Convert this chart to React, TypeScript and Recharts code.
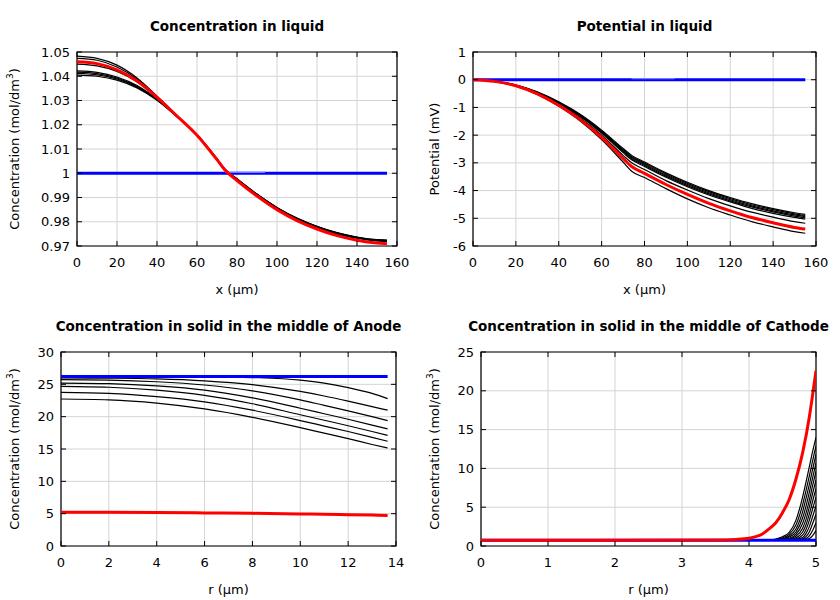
import React from 'react';
import { LineChart, Line, XAxis, YAxis, CartesianGrid, ReferenceArea } from 'recharts';

const FONT = "'DejaVu Sans', 'Liberation Sans', sans-serif";

// ---------- Panel 1: Concentration in liquid ----------
const liquidX = [0, 10, 20, 30, 40, 50, 60, 70, 74, 80, 90, 100, 110, 120, 130, 140, 150, 155];
const liquidConcBlack = [
  [1.0483, 1.0474, 1.0446, 1.0393, 1.0318, 1.0237, 1.0156, 1.0055, 1.0012, 0.9972, 0.9909, 0.9854, 0.9810, 0.9776, 0.9750, 0.9732, 0.9721, 0.9719],
  [1.0474, 1.0466, 1.0438, 1.0388, 1.0316, 1.0237, 1.0157, 1.0056, 1.0013, 0.9973, 0.9910, 0.9855, 0.9811, 0.9777, 0.9751, 0.9733, 0.9722, 0.9720],
  [1.0450, 1.0443, 1.0420, 1.0377, 1.0312, 1.0236, 1.0157, 1.0057, 1.0014, 0.9974, 0.9911, 0.9856, 0.9812, 0.9778, 0.9752, 0.9734, 0.9723, 0.9721],
  [1.0422, 1.0416, 1.0397, 1.0362, 1.0306, 1.0234, 1.0158, 1.0058, 1.0015, 0.9975, 0.9912, 0.9857, 0.9813, 0.9779, 0.9753, 0.9735, 0.9724, 0.9722],
  [1.0417, 1.0411, 1.0393, 1.0359, 1.0305, 1.0234, 1.0158, 1.0058, 1.0015, 0.9975, 0.9912, 0.9857, 0.9813, 0.9779, 0.9753, 0.9735, 0.9724, 0.9722],
  [1.0412, 1.0406, 1.0389, 1.0356, 1.0303, 1.0233, 1.0158, 1.0059, 1.0016, 0.9976, 0.9913, 0.9858, 0.9814, 0.9780, 0.9754, 0.9736, 0.9725, 0.9723],
  [1.0405, 1.0400, 1.0384, 1.0352, 1.0301, 1.0233, 1.0159, 1.0060, 1.0017, 0.9977, 0.9914, 0.9859, 0.9815, 0.9781, 0.9755, 0.9737, 0.9726, 0.9724],
];
const liquidConcRed = [1.0460, 1.0452, 1.0426, 1.0380, 1.0313, 1.0236, 1.0157, 1.0056, 1.0013, 0.9970, 0.9906, 0.9850, 0.9805, 0.9770, 0.9743, 0.9724, 0.9712, 0.9709];
const liquidBlueX = [0, 155];
const liquidConcBlue = [1, 1];
const liquidBlueSegX = [74, 94];
const liquidConcBlueSeg = [1.0004, 1.0004];
const liquidXTicks = [0, 20, 40, 60, 80, 100, 120, 140, 160];
const liquidConcTicks = [0.97, 0.98, 0.99, 1, 1.01, 1.02, 1.03, 1.04, 1.05];

// ---------- Panel 2: Potential in liquid ----------
const potentialBlack = [
  [0, -0.06, -0.19, -0.44, -0.80, -1.25, -1.82, -2.48, -2.73, -2.97, -3.36, -3.70, -4.00, -4.25, -4.47, -4.65, -4.80, -4.86],
  [0, -0.06, -0.19, -0.45, -0.81, -1.27, -1.85, -2.52, -2.77, -3.01, -3.40, -3.74, -4.04, -4.29, -4.51, -4.69, -4.84, -4.90],
  [0, -0.06, -0.20, -0.46, -0.82, -1.29, -1.88, -2.56, -2.81, -3.05, -3.44, -3.78, -4.08, -4.33, -4.55, -4.73, -4.88, -4.94],
  [0, -0.06, -0.20, -0.46, -0.83, -1.31, -1.90, -2.59, -2.85, -3.09, -3.48, -3.82, -4.12, -4.37, -4.59, -4.77, -4.92, -4.98],
  [0, -0.06, -0.20, -0.47, -0.85, -1.33, -1.93, -2.63, -2.89, -3.13, -3.52, -3.86, -4.16, -4.41, -4.64, -4.82, -4.97, -5.03],
  [0, -0.06, -0.21, -0.49, -0.88, -1.38, -2.00, -2.73, -3.00, -3.24, -3.64, -3.98, -4.29, -4.55, -4.78, -4.96, -5.12, -5.18],
  [0, -0.07, -0.23, -0.53, -0.96, -1.49, -2.16, -2.97, -3.30, -3.53, -3.93, -4.30, -4.62, -4.88, -5.12, -5.31, -5.48, -5.54],
];
const potentialRed = [0, -0.06, -0.22, -0.51, -0.92, -1.44, -2.08, -2.84, -3.13, -3.38, -3.78, -4.14, -4.46, -4.73, -4.97, -5.16, -5.33, -5.39];
const potentialBlue = [0, 0];
const potentialBlueSeg = [0.04, 0.04];
const potentialTicks = [-6, -5, -4, -3, -2, -1, 0, 1];

// ---------- Panel 3: Anode solid ----------
const anodeR = [0, 2, 4, 6, 8, 10, 11, 12, 13, 13.65];
const anodeBlack = [
  [26.25, 26.25, 26.24, 26.2, 26.05, 25.65, 25.2, 24.5, 23.6, 22.8],
  [25.98, 25.95, 25.85, 25.55, 24.95, 23.9, 23.2, 22.4, 21.55, 21.0],
  [25.72, 25.65, 25.4, 24.9, 24.0, 22.6, 21.75, 20.9, 20.0, 19.4],
  [25.2, 25.1, 24.75, 24.1, 22.9, 21.3, 20.45, 19.6, 18.7, 18.1],
  [24.69, 24.55, 24.1, 23.3, 22.0, 20.3, 19.45, 18.6, 17.7, 17.1],
  [23.76, 23.6, 23.1, 22.3, 21.0, 19.4, 18.55, 17.7, 16.8, 16.2],
  [22.73, 22.6, 22.1, 21.2, 19.9, 18.3, 17.45, 16.6, 15.7, 15.15],
];
const anodeRed = [5.2, 5.2, 5.17, 5.12, 5.05, 4.95, 4.9, 4.85, 4.78, 4.72];
const anodeBlueR = [0, 13.65];
const anodeBlue = [26.2, 26.2];
const anodeRTicks = [0, 2, 4, 6, 8, 10, 12, 14];
const anodeTicks = [0, 5, 10, 15, 20, 25, 30];

// ---------- Panel 4: Cathode solid ----------
const cathodeBlackR = [0, 4.3, 4.5, 4.6, 4.7, 4.8, 4.85, 4.9, 4.95, 5.0];
const cathodeBlack = [
  [0.75, 0.8, 1.2, 1.75, 3.3, 6.3, 8.2, 10.2, 12.2, 14.0],
  [0.75, 0.78, 1.05, 1.5, 2.7, 5.3, 7.1, 9.0, 11.0, 12.9],
  [0.75, 0.77, 0.95, 1.3, 2.2, 4.4, 6.1, 7.9, 9.9, 11.8],
  [0.75, 0.76, 0.88, 1.15, 1.8, 3.6, 5.1, 6.9, 8.8, 10.7],
  [0.75, 0.76, 0.84, 1.0, 1.5, 2.9, 4.2, 5.9, 7.8, 9.6],
  [0.75, 0.75, 0.8, 0.92, 1.25, 2.3, 3.4, 5.0, 6.8, 8.5],
  [0.75, 0.75, 0.78, 0.85, 1.05, 1.8, 2.7, 4.1, 5.8, 7.4],
  [0.75, 0.75, 0.76, 0.8, 0.92, 1.4, 2.1, 3.3, 4.8, 6.3],
  [0.75, 0.75, 0.75, 0.77, 0.84, 1.1, 1.6, 2.5, 3.8, 5.2],
  [0.75, 0.75, 0.75, 0.76, 0.79, 0.92, 1.2, 1.8, 2.9, 4.1],
  [0.75, 0.75, 0.75, 0.75, 0.77, 0.82, 0.95, 1.3, 2.0, 3.0],
  [0.75, 0.75, 0.75, 0.75, 0.76, 0.78, 0.83, 0.98, 1.35, 2.0],
];
const cathodeRedR = [0, 3.5, 3.8, 4.0, 4.1, 4.2, 4.3, 4.4, 4.5, 4.6, 4.7, 4.8, 4.9, 4.95, 5.0];
const cathodeRed = [0.75, 0.76, 0.84, 1.0, 1.2, 1.55, 2.2, 3.0, 4.3, 6.0, 8.6, 12.0, 16.6, 19.5, 22.6];
const cathodeBlueR = [0, 5];
const cathodeBlue = [0.75, 0.75];
const cathodeRTicks = [0, 1, 2, 3, 4, 5];
const cathodeTicks = [0, 5, 10, 15, 20, 25];

// ---------- layout ----------
const W = 420;
const H = 300;
const TOP = 52;
const BOTTOM = 246;
const YAXIS_W = 40;
const XAXIS_H = 30;

type S = { xs: number[]; ys: number[]; color: string; width: number };

const pts = (xs: number[], ys: number[]) => xs.map((x, i) => ({ x, y: ys[i] }));

const concLabel = (
  <span>
    Concentration (mol/dm<sup style={{ fontSize: 9, verticalAlign: 'super', lineHeight: 0 }}>3</sup>)
  </span>
);

type PanelProps = {
  ox: number;
  oy: number;
  plotLeft: number;
  plotRight: number;
  title: string;
  xLabel: string;
  yLabel: React.ReactNode;
  xDomain: [number, number];
  xTicks: number[];
  yDomain: [number, number];
  yTicks: number[];
  series: S[];
};

function Panel(p: PanelProps) {
  const left = p.plotLeft;
  const right = p.plotRight;
  const margin = { top: TOP, right: W - right, bottom: H - BOTTOM - XAXIS_H, left: left - YAXIS_W };
  const YTick = (props: any) => {
    const { y, payload } = props;
    return (
      <g>
        <line x1={left} x2={left + 5} y1={y} y2={y} stroke="#000" strokeWidth={1} />
        <line x1={right - 5} x2={right} y1={y} y2={y} stroke="#000" strokeWidth={1} />
        <text x={left - 7} y={y} dy={4.5} textAnchor="end" fontSize={13} fontFamily={FONT} fill="#000">
          {String(payload.value)}
        </text>
      </g>
    );
  };
  const XTick = (props: any) => {
    const { x, payload } = props;
    return (
      <g>
        <line x1={x} x2={x} y1={BOTTOM} y2={BOTTOM - 5} stroke="#000" strokeWidth={1} />
        <line x1={x} x2={x} y1={TOP} y2={TOP + 5} stroke="#000" strokeWidth={1} />
        <text x={x} y={BOTTOM + 21} textAnchor="middle" fontSize={13} fontFamily={FONT} fill="#000">
          {String(payload.value)}
        </text>
      </g>
    );
  };
  const cx = (left + right) / 2;
  const cy = (TOP + BOTTOM) / 2;
  return (
    <div style={{ position: 'absolute', left: p.ox, top: p.oy, width: W, height: H }}>
      <LineChart width={W} height={H} margin={margin}>
        <CartesianGrid stroke="#d4d4d4" strokeWidth={1} />
        <XAxis
          type="number"
          dataKey="x"
          domain={p.xDomain}
          ticks={p.xTicks}
          interval={0}
          allowDataOverflow
          height={XAXIS_H}
          axisLine={false}
          tickLine={false}
          tick={XTick}
        />
        <YAxis
          type="number"
          dataKey="y"
          domain={p.yDomain}
          ticks={p.yTicks}
          interval={0}
          allowDataOverflow
          width={YAXIS_W}
          axisLine={false}
          tickLine={false}
          tick={YTick}
        />
        {p.series.map((s, i) => (
          <Line
            key={i}
            data={pts(s.xs, s.ys)}
            dataKey="y"
            type="monotone"
            stroke={s.color}
            strokeWidth={s.width}
            dot={false}
            activeDot={false}
            isAnimationActive={false}
          />
        ))}
        <ReferenceArea
          x1={p.xDomain[0]}
          x2={p.xDomain[1]}
          y1={p.yDomain[0]}
          y2={p.yDomain[1]}
          fill="none"
          fillOpacity={0}
          stroke="#000"
          strokeWidth={1.2}
          strokeOpacity={1}
          ifOverflow="extendDomain"
        />
      </LineChart>
      <div
        style={{
          position: 'absolute',
          left: cx,
          top: 26,
          transform: 'translate(-50%, -50%)',
          fontFamily: FONT,
          fontSize: 13.5,
          fontWeight: 'bold',
          whiteSpace: 'nowrap',
          color: '#000',
        }}
      >
        {p.title}
      </div>
      <div
        style={{
          position: 'absolute',
          left: cx,
          top: 289,
          transform: 'translate(-50%, -50%)',
          fontFamily: FONT,
          fontSize: 13,
          whiteSpace: 'nowrap',
          color: '#000',
        }}
      >
        {p.xLabel}
      </div>
      <div
        style={{
          position: 'absolute',
          left: 14,
          top: cy,
          transform: 'translate(-50%, -50%) rotate(-90deg)',
          fontFamily: FONT,
          fontSize: 13,
          whiteSpace: 'nowrap',
          color: '#000',
        }}
      >
        {p.yLabel}
      </div>
    </div>
  );
}

const black = (xs: number[], rows: number[][]): S[] => rows.map((ys) => ({ xs, ys, color: '#000000', width: 1.2 }));

export default function App() {
  const liquidSeries: S[] = [
    ...black(liquidX, liquidConcBlack),
    { xs: liquidBlueX, ys: liquidConcBlue, color: '#0000ff', width: 3 },
    { xs: liquidBlueSegX, ys: liquidConcBlueSeg, color: '#7a7aff', width: 1.2 },
    { xs: liquidX, ys: liquidConcRed, color: '#ff0000', width: 3 },
  ];
  const potentialSeries: S[] = [
    ...black(liquidX, potentialBlack),
    { xs: liquidBlueX, ys: potentialBlue, color: '#0000ff', width: 3 },
    { xs: liquidBlueSegX, ys: potentialBlueSeg, color: '#7a7aff', width: 1.2 },
    { xs: liquidX, ys: potentialRed, color: '#ff0000', width: 3 },
  ];
  const anodeSeries: S[] = [
    ...black(anodeR, anodeBlack),
    { xs: anodeBlueR, ys: anodeBlue, color: '#0000ff', width: 3 },
    { xs: anodeR, ys: anodeRed, color: '#ff0000', width: 3 },
  ];
  const cathodeSeries: S[] = [
    ...black(cathodeBlackR, cathodeBlack),
    { xs: cathodeBlueR, ys: cathodeBlue, color: '#0000ff', width: 3 },
    { xs: cathodeRedR, ys: cathodeRed, color: '#ff0000', width: 3 },
  ];
  return (
    <div style={{ position: 'absolute', left: 0, top: 0, width: 840, height: 600, background: '#fff', overflow: 'hidden' }}>
      <Panel
        ox={0}
        oy={0}
        plotLeft={77}
        plotRight={397}
        title="Concentration in liquid"
        xLabel="x (µm)"
        yLabel={concLabel}
        xDomain={[0, 160]}
        xTicks={liquidXTicks}
        yDomain={[0.97, 1.05]}
        yTicks={liquidConcTicks}
        series={liquidSeries}
      />
      <Panel
        ox={420}
        oy={0}
        plotLeft={53}
        plotRight={396}
        title="Potential in liquid"
        xLabel="x (µm)"
        yLabel="Potential (mV)"
        xDomain={[0, 160]}
        xTicks={liquidXTicks}
        yDomain={[-6, 1]}
        yTicks={potentialTicks}
        series={potentialSeries}
      />
      <Panel
        ox={0}
        oy={300}
        plotLeft={61}
        plotRight={396}
        title="Concentration in solid in the middle of Anode"
        xLabel="r (µm)"
        yLabel={concLabel}
        xDomain={[0, 14]}
        xTicks={anodeRTicks}
        yDomain={[0, 30]}
        yTicks={anodeTicks}
        series={anodeSeries}
      />
      <Panel
        ox={420}
        oy={300}
        plotLeft={61}
        plotRight={396}
        title="Concentration in solid in the middle of Cathode"
        xLabel="r (µm)"
        yLabel={concLabel}
        xDomain={[0, 5]}
        xTicks={cathodeRTicks}
        yDomain={[0, 25]}
        yTicks={cathodeTicks}
        series={cathodeSeries}
      />
    </div>
  );
}
